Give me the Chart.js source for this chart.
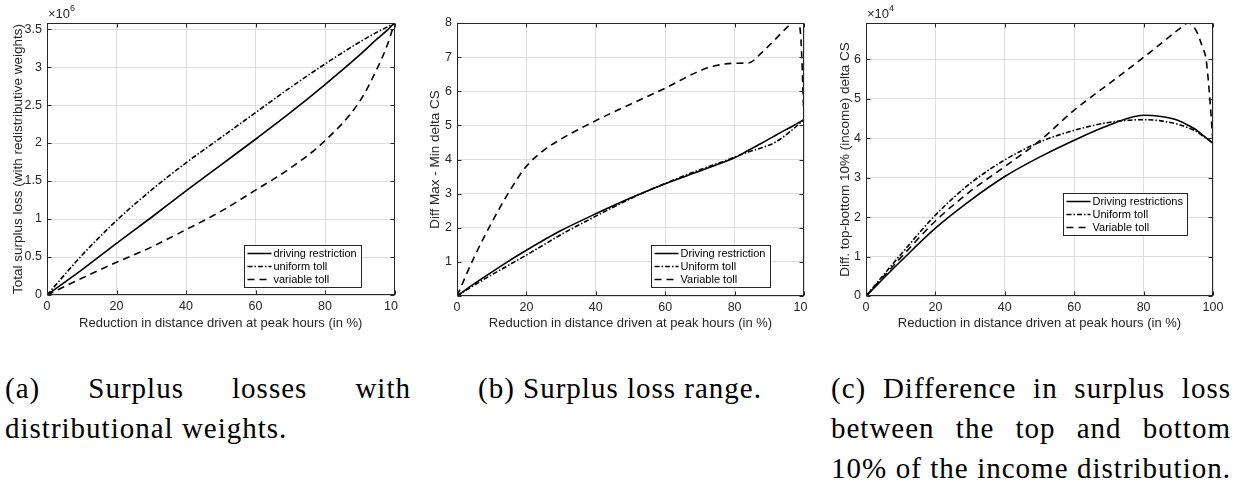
<!DOCTYPE html>
<html lang="en">
<head>
<meta charset="UTF-8">
<title>Surplus losses</title>
<script src="https://cdn.jsdelivr.net/npm/chart.js"></script>
<style>
  body { margin: 0; width: 1235px; height: 485px; background: #fff; overflow: hidden; position: relative; }
  .painel { position: absolute; top: 0; height: 335px; overflow: hidden; }
  .cap { position: absolute; top: 368px; font-family: "Liberation Serif", serif; font-size: 29px; line-height: 40px; letter-spacing: 1px; color: #000; white-space: nowrap; }
  .just { text-align: justify; text-align-last: justify; }
</style>
</head>
<body>
  <div class="painel" style="left:0;width:398px"><canvas id="chartA" width="430" height="335"></canvas></div>
  <div class="painel" style="left:410px;width:398px"><canvas id="chartB" width="430" height="335"></canvas></div>
  <div class="painel" style="left:820px;width:415px"><canvas id="chartC" width="430" height="335"></canvas></div>

  <div class="cap" style="left:5px;width:406px">
    <div class="just">(a) Surplus losses with</div>
    <div>distributional weights.</div>
  </div>
  <div class="cap" style="left:478px;width:290px">
    <div>(b) Surplus loss range.</div>
  </div>
  <div class="cap" style="left:831px;width:400px">
    <div class="just">(c) Difference in surplus loss</div>
    <div class="just">between the top and bottom</div>
    <div class="just">10% of the income distribution.</div>
  </div>

<script>
  // (a) total surplus loss, x10^6
  const reductionA = [0, 10, 20, 30, 40, 50, 60, 70, 80, 90, 95, 98, 100];
  const drivingA   = [0, 0.33, 0.68, 1.02, 1.37, 1.71, 2.05, 2.40, 2.77, 3.16, 3.37, 3.49, 3.58];
  const uniformA   = [0, 0.52, 0.98, 1.38, 1.74, 2.07, 2.40, 2.73, 3.04, 3.33, 3.46, 3.53, 3.58];
  const variableA  = [0, 0.22, 0.43, 0.63, 0.86, 1.10, 1.38, 1.67, 2.03, 2.55, 2.98, 3.30, 3.58];
  const yTicksA = [0, 0.5, 1, 1.5, 2, 2.5, 3, 3.5];

  // (b) diff max - min delta CS
  const reductionB = [0, 5, 10, 15, 20, 25, 30, 40, 50, 60, 70, 75, 80, 84, 88, 92, 96, 98, 99, 100];
  const drivingB   = [0, 0.36, 0.70, 1.03, 1.34, 1.64, 1.92, 2.41, 2.87, 3.29, 3.66, 3.85, 4.05, 4.27, 4.49, 4.72, 4.94, 5.05, 5.11, 5.17];
  const uniformB   = [0, 0.32, 0.62, 0.91, 1.20, 1.50, 1.80, 2.34, 2.85, 3.30, 3.70, 3.88, 4.07, 4.22, 4.35, 4.52, 4.82, 4.99, 5.08, 5.17];
  const variableB  = [0, 1.15, 2.15, 3.05, 3.80, 4.27, 4.60, 5.14, 5.62, 6.09, 6.60, 6.76, 6.82, 6.83, 7.15, 7.55, 7.95, 8.05, 7.70, 5.17];
  const yTicksB = [0, 1, 2, 3, 4, 5, 6, 7, 8];

  // (c) diff top-bottom 10% delta CS, x10^4
  const reductionC = [0, 10, 20, 30, 40, 50, 60, 70, 80, 85, 90, 93, 95, 97, 98, 99, 100];
  const drivingC   = [0, 0.88, 1.72, 2.42, 3.03, 3.52, 3.95, 4.33, 4.58, 4.55, 4.45, 4.32, 4.22, 4.08, 4.01, 3.94, 3.87];
  const uniformC   = [0, 1.05, 2.05, 2.85, 3.45, 3.90, 4.20, 4.40, 4.47, 4.44, 4.35, 4.26, 4.18, 4.06, 4.00, 3.94, 3.87];
  const variableC  = [0, 0.97, 1.90, 2.65, 3.28, 3.93, 4.71, 5.38, 6.05, 6.40, 6.75, 6.92, 6.75, 6.30, 6.00, 5.10, 3.87];
  const yTicksC = [0, 1, 2, 3, 4, 5, 6];

  const xTicks = [0, 20, 40, 60, 80, 100];
  const xTitle = 'Reduction in distance driven at peak hours (in %)';

  Chart.defaults.font.family = '"Liberation Sans", Arial, sans-serif';
  Chart.defaults.color = '#262626';

  const DASHDOT = [5, 2, 1.5, 2];
  const DASHED = [7, 5];

  // box, inner tick marks, exponent and legend drawn matlab-style
  const moldura = {
    id: 'moldura',
    afterDatasetsDraw(chart, args, opts) {
      const { ctx, chartArea: a, scales: { x, y } } = chart;
      ctx.save();
      ctx.strokeStyle = '#262626';
      ctx.lineWidth = 1;
      const L = Math.round(a.left) + 0.5, R = Math.round(a.right) - 0.5;
      const T = Math.round(a.top) + 0.5, B = Math.round(a.bottom) - 0.5;
      ctx.strokeRect(L, T, R - L, B - T);
      ctx.beginPath();
      x.ticks.forEach(t => {
        const px = Math.round(x.getPixelForValue(t.value)) + 0.5;
        ctx.moveTo(px, B); ctx.lineTo(px, B - 4);
        ctx.moveTo(px, T); ctx.lineTo(px, T + 4);
      });
      y.ticks.forEach(t => {
        const py = Math.round(y.getPixelForValue(t.value)) + 0.5;
        ctx.moveTo(L, py); ctx.lineTo(L + 4, py);
        ctx.moveTo(R, py); ctx.lineTo(R - 4, py);
      });
      ctx.stroke();

      if (opts.exp) {
        ctx.fillStyle = '#262626';
        ctx.textBaseline = 'alphabetic';
        ctx.font = '13px "Liberation Sans", Arial';
        ctx.fillText('×10', a.left + 1, a.top - 5);
        const w = ctx.measureText('×10').width;
        ctx.font = '9px "Liberation Sans", Arial';
        ctx.fillText(opts.exp, a.left + 1 + w, a.top - 12);
      }

      const lg = opts.legend;
      if (lg) {
        ctx.font = '11px "Liberation Sans", Arial';
        const sets = chart.data.datasets;
        const tw = Math.max(...sets.map(d => ctx.measureText(d.label).width));
        const w = Math.round(30 + tw + 4), h = 42;
        const bx = Math.round(a.right - lg.right - w) + 0.5;
        const by = Math.round(a.bottom - lg.bottom - h) + 0.5;
        ctx.fillStyle = '#fff';
        ctx.fillRect(bx, by, w, h);
        ctx.strokeStyle = '#262626';
        ctx.lineWidth = 1;
        ctx.strokeRect(bx, by, w, h);
        sets.forEach((d, i) => {
          const ry = by + 8 + i * 13;
          ctx.beginPath();
          ctx.setLineDash(d.borderDash || []);
          ctx.lineWidth = 1.5;
          ctx.strokeStyle = '#000';
          ctx.moveTo(bx + 3, ry); ctx.lineTo(bx + 27, ry);
          ctx.stroke();
          ctx.setLineDash([]);
          ctx.fillStyle = '#000';
          ctx.textBaseline = 'middle';
          ctx.fillText(d.label, bx + 29, ry + 0.5);
        });
      }
      ctx.restore();
    }
  };

  function serie(label, xs, ys, dash) {
    return {
      label: label,
      data: xs.map((v, i) => ({ x: v, y: ys[i] })),
      borderColor: '#000',
      borderWidth: 1.6,
      borderDash: dash,
      pointRadius: 0,
      fill: false,
      cubicInterpolationMode: 'monotone'
    };
  }

  function desenhar(id, cfg) {
    new Chart(document.getElementById(id), {
      type: 'line',
      data: { datasets: cfg.datasets },
      options: {
        responsive: false,
        animation: false,
        devicePixelRatio: 1,
        layout: { padding: { top: cfg.top, right: 430 - cfg.right, left: 0, bottom: 0 } },
        plugins: {
          legend: { display: false },
          tooltip: { enabled: false },
          moldura: { exp: cfg.exp, legend: cfg.legend }
        },
        scales: {
          x: {
            type: 'linear', min: 0, max: 100,
            afterBuildTicks: s => { s.ticks = xTicks.map(v => ({ value: v })); },
            afterFit: s => { s.height = 335 - cfg.bottom; s.paddingLeft = 0; s.paddingRight = 0; },
            grid: { color: '#dedede', drawTicks: false },
            border: { display: false },
            ticks: { padding: 4, font: { size: 12.5 }, maxRotation: 0 },
            title: { display: true, text: xTitle, font: { size: 13 }, padding: { top: 0, bottom: 4 } }
          },
          y: {
            min: 0, max: cfg.ymax,
            afterBuildTicks: s => { s.ticks = cfg.yTicks.map(v => ({ value: v })); },
            afterFit: s => { s.width = cfg.left; s.paddingTop = 0; s.paddingBottom = 0; },
            grid: { color: '#dedede', drawTicks: false },
            border: { display: false },
            ticks: {
              padding: 5, font: { size: 12.5 },
              callback: v => (cfg.hideZero && v === 0) ? '' : String(v)
            },
            title: { display: true, text: cfg.yTitle, font: { size: 13.5 }, padding: { top: cfg.titleGap, bottom: 0 } }
          }
        }
      },
      plugins: [moldura]
    });
  }

  desenhar('chartA', {
    datasets: [
      serie('driving restriction', reductionA, drivingA, []),
      serie('uniform toll', reductionA, uniformA, DASHDOT),
      serie('variable toll', reductionA, variableA, DASHED)
    ],
    left: 47, right: 394.5, top: 23, bottom: 295,
    ymax: 3.58, yTicks: yTicksA, exp: '6', titleGap: 10,
    yTitle: 'Total surplus loss (with redistributive weights)',
    legend: { right: 34, bottom: 8 }
  });

  desenhar('chartB', {
    datasets: [
      serie('Driving restriction', reductionB, drivingB, []),
      serie('Uniform toll', reductionB, uniformB, DASHDOT),
      serie('Variable toll', reductionB, variableB, DASHED)
    ],
    left: 47, right: 394, top: 23, bottom: 296,
    ymax: 8, yTicks: yTicksB, hideZero: true, titleGap: 17,
    yTitle: 'Diff Max - Min delta CS',
    legend: { right: 34, bottom: 9 }
  });

  desenhar('chartC', {
    datasets: [
      serie('Driving restrictions', reductionC, drivingC, []),
      serie('Uniform toll', reductionC, uniformC, DASHDOT),
      serie('Variable toll', reductionC, variableC, DASHED)
    ],
    left: 46, right: 393, top: 23, bottom: 296,
    ymax: 6.92, yTicks: yTicksC, exp: '4', titleGap: 17,
    yTitle: 'Diff. top-bottom 10% (income) delta CS',
    legend: { right: 26, bottom: 61 }
  });
</script>
</body>
</html>
